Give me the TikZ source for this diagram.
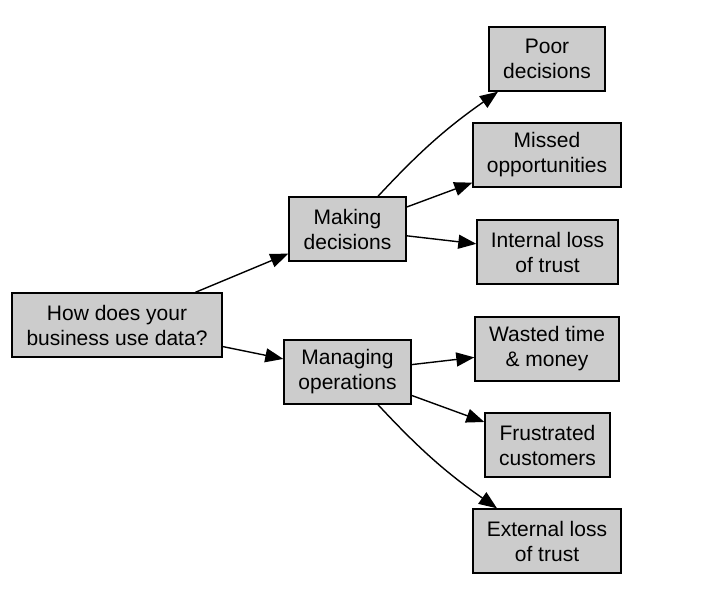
\documentclass[tikz,border=0pt]{standalone}
\usepackage{fontspec}
\setmainfont{Liberation Sans}
\usetikzlibrary{arrows.meta}
\definecolor{boxfill}{HTML}{CCCCCC}
\begin{document}
\begin{tikzpicture}[x=1pt,y=-1pt,
  box/.style={draw=black, fill=boxfill, line width=1.4pt, rectangle,
    minimum height=64pt, inner sep=0pt, align=center,
    font=\fontsize{21}{25}\selectfont},
  edge/.style={draw=black, line width=1.4pt,
    -{Triangle[length=18pt,width=14pt]}}]
\useasboundingbox (0,0) rectangle (706,615);
\node[box, minimum width=210pt] (root) at (117,325) {How does your\\business use data?};
\node[box, minimum width=117pt] (mkd) at (347.5,229) {Making\\decisions};
\node[box, minimum width=127pt] (mop) at (347.5,372) {Managing\\operations};
\node[box, minimum width=116pt] (poor) at (547,59) {Poor\\decisions};
\node[box, minimum width=148pt] (missed) at (547,155) {Missed\\opportunities};
\node[box, minimum width=141pt] (internal) at (547.5,252) {Internal loss\\of trust};
\node[box, minimum width=144pt] (wasted) at (547,349) {Wasted time\\\& money};
\node[box, minimum width=125pt] (frustrated) at (547.5,445) {Frustrated\\customers};
\node[box, minimum width=148pt] (external) at (547,541) {External loss\\of trust};
\draw[edge] (root) -- (mkd);
\draw[edge] (root) -- (mop);
\draw[edge] ([xshift=30.5pt]mkd.north) to[bend left=6] ([xshift=-49pt]poor.south);
\draw[edge] (mkd) -- (missed);
\draw[edge] (mkd) -- (internal);
\draw[edge] (mop) -- (wasted);
\draw[edge] (mop) -- (frustrated);
\draw[edge] ([xshift=30.5pt]mop.south) to[bend right=6] ([xshift=-50pt]external.north);
\end{tikzpicture}
\end{document}
